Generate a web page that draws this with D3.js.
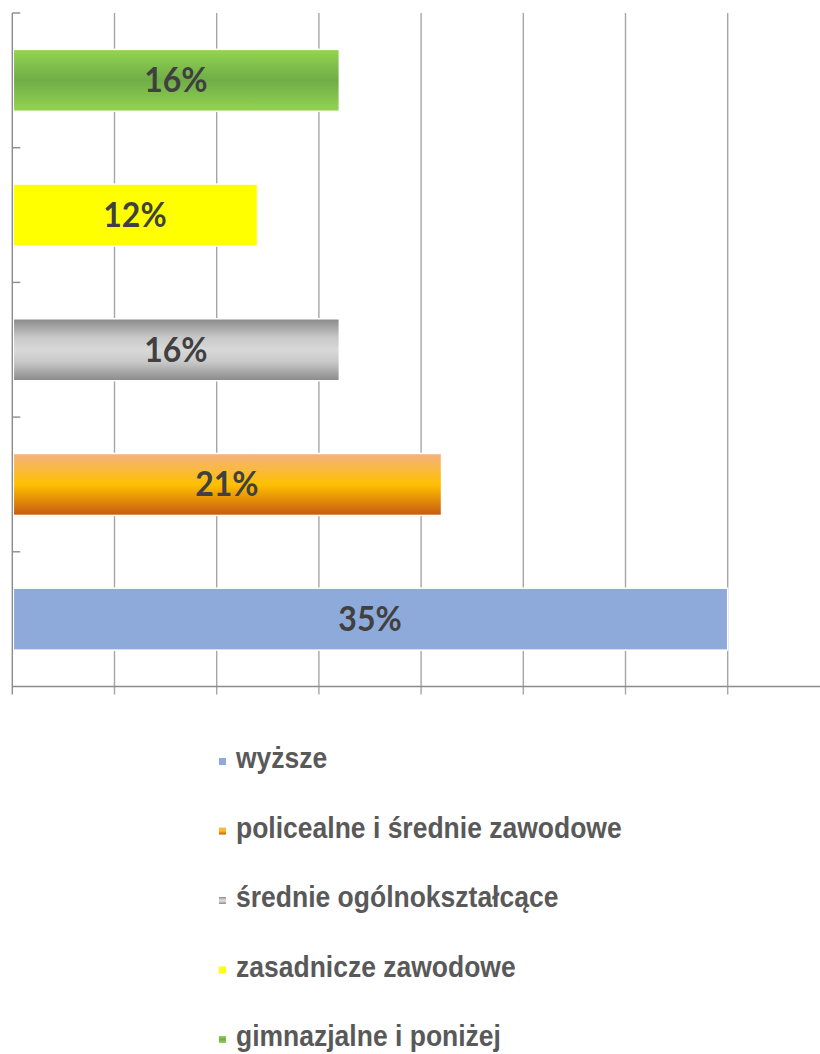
<!DOCTYPE html>
<html><head><meta charset="utf-8">
<script src="https://cdn.jsdelivr.net/npm/d3@7"></script>
<style>body{margin:0;background:#fff}svg{display:block}</style>
</head><body>
<script>
// Data (top to bottom on chart)
const categories = ["gimnazjalne i poniżej","zasadnicze zawodowe","średnie ogólnokształcące","policealne i średnie zawodowe","wyższe"];
const values = [16, 12, 16, 21, 35];
const xTicks = [0,5,10,15,20,25,30,35,40];
const legendOrder = ["wyższe","policealne i średnie zawodowe","średnie ogólnokształcące","zasadnicze zawodowe","gimnazjalne i poniżej"];

(function(){
const W = 820, H = 1054;
const svg = d3.select("body").append("svg").attr("width", W).attr("height", H);
const defs = svg.append("defs");

function vgrad(id, stops){
  const g = defs.append("linearGradient").attr("id", id).attr("x1",0).attr("y1",0).attr("x2",0).attr("y2",1);
  stops.forEach(s => g.append("stop").attr("offset", s[0]).attr("stop-color", s[1]));
}
vgrad("gGreen", [[0,"#94d451"],[0.5,"#70ad47"],[1,"#94d451"]]);
vgrad("gYellow", [[0,"#ffff00"],[1,"#ffff00"]]);
vgrad("gGray", [[0,"#898989"],[0.3,"#c8c8c8"],[0.5,"#d9d9d9"],[0.7,"#c8c8c8"],[1,"#898989"]]);
vgrad("gOrange", [[0,"#f4b183"],[0.5,"#ffc000"],[1,"#c55a11"]]);
vgrad("gBlue", [[0,"#8eaadb"],[1,"#8eaadb"]]);
const fills = {
  "gimnazjalne i poniżej":"url(#gGreen)",
  "zasadnicze zawodowe":"url(#gYellow)",
  "średnie ogólnokształcące":"url(#gGray)",
  "policealne i średnie zawodowe":"url(#gOrange)",
  "wyższe":"url(#gBlue)"
};

const plotLeft = 12.3, plotTop = 13, plotBottom = 686.5;
const x = d3.scaleLinear().domain([0,40]).range([plotLeft, plotLeft + 8*102.2]);
const y = d3.scaleBand().domain(categories).range([plotTop, plotBottom]).paddingInner(0.54).paddingOuter(0.27);

// gridlines
svg.append("g").selectAll("line").data(xTicks.filter(d=>d>0)).join("line")
  .attr("x1", d=>x(d)).attr("x2", d=>x(d)).attr("y1", plotTop).attr("y2", plotBottom + 8)
  .attr("stroke", "#a6a6a6").attr("stroke-width", 1.4);

// bars
svg.append("g").selectAll("rect").data(categories).join("rect")
  .attr("x", x(0) + 1).attr("y", d=>y(d))
  .attr("width", (d,i)=>x(values[i]) - x(0) - 1).attr("height", y.bandwidth())
  .attr("fill", d=>fills[d]).attr("stroke", "#fff").attr("stroke-width", 1.5);

// axes
svg.append("line").attr("x1", x(0)).attr("x2", W).attr("y1", plotBottom).attr("y2", plotBottom)
  .attr("stroke", "#8c8c8c").attr("stroke-width", 1.4);
svg.append("line").attr("x1", x(0)).attr("x2", x(0)).attr("y1", plotTop).attr("y2", plotBottom + 8)
  .attr("stroke", "#8c8c8c").attr("stroke-width", 1.4);
const bounds = categories.map(c => y(c) - y.step()*y.paddingInner()/2);
svg.append("g").selectAll("line").data(bounds).join("line")
  .attr("x1", x(0)).attr("x2", x(0) + 8).attr("y1", d=>d).attr("y2", d=>d)
  .attr("stroke", "#8c8c8c").attr("stroke-width", 1.4);

// labels
svg.append("g").selectAll("text").data(categories).join("text")
  .attr("transform", (d,i)=>`translate(${(x(0)+x(values[i]))/2},${y(d)+y.bandwidth()/2 + 12}) scale(1,1.1)`)
  .attr("text-anchor","middle")
  .attr("font-family","Lato, 'Open Sans', sans-serif").attr("font-weight",700)
  .attr("font-size", 32).attr("fill","#404040")
  .text((d,i)=>values[i] + "%");

// legend
const legY = d3.scalePoint().domain(legendOrder).range([768, 1046]);
const leg = svg.append("g").selectAll("g").data(legendOrder).join("g")
  .attr("transform", d=>`translate(0,${legY(d)})`);
leg.append("rect").attr("x", 219).attr("y", -10).attr("width", 7).attr("height", 7)
  .attr("fill", d=>fills[d]);
leg.append("text").attr("transform","translate(236,0) scale(1,1.12)")
  .attr("font-family","'Liberation Sans', Arial, sans-serif").attr("font-weight",700)
  .attr("font-size", 26.5).attr("fill","#595959").text(d=>d);
})();
</script>
</body></html>
